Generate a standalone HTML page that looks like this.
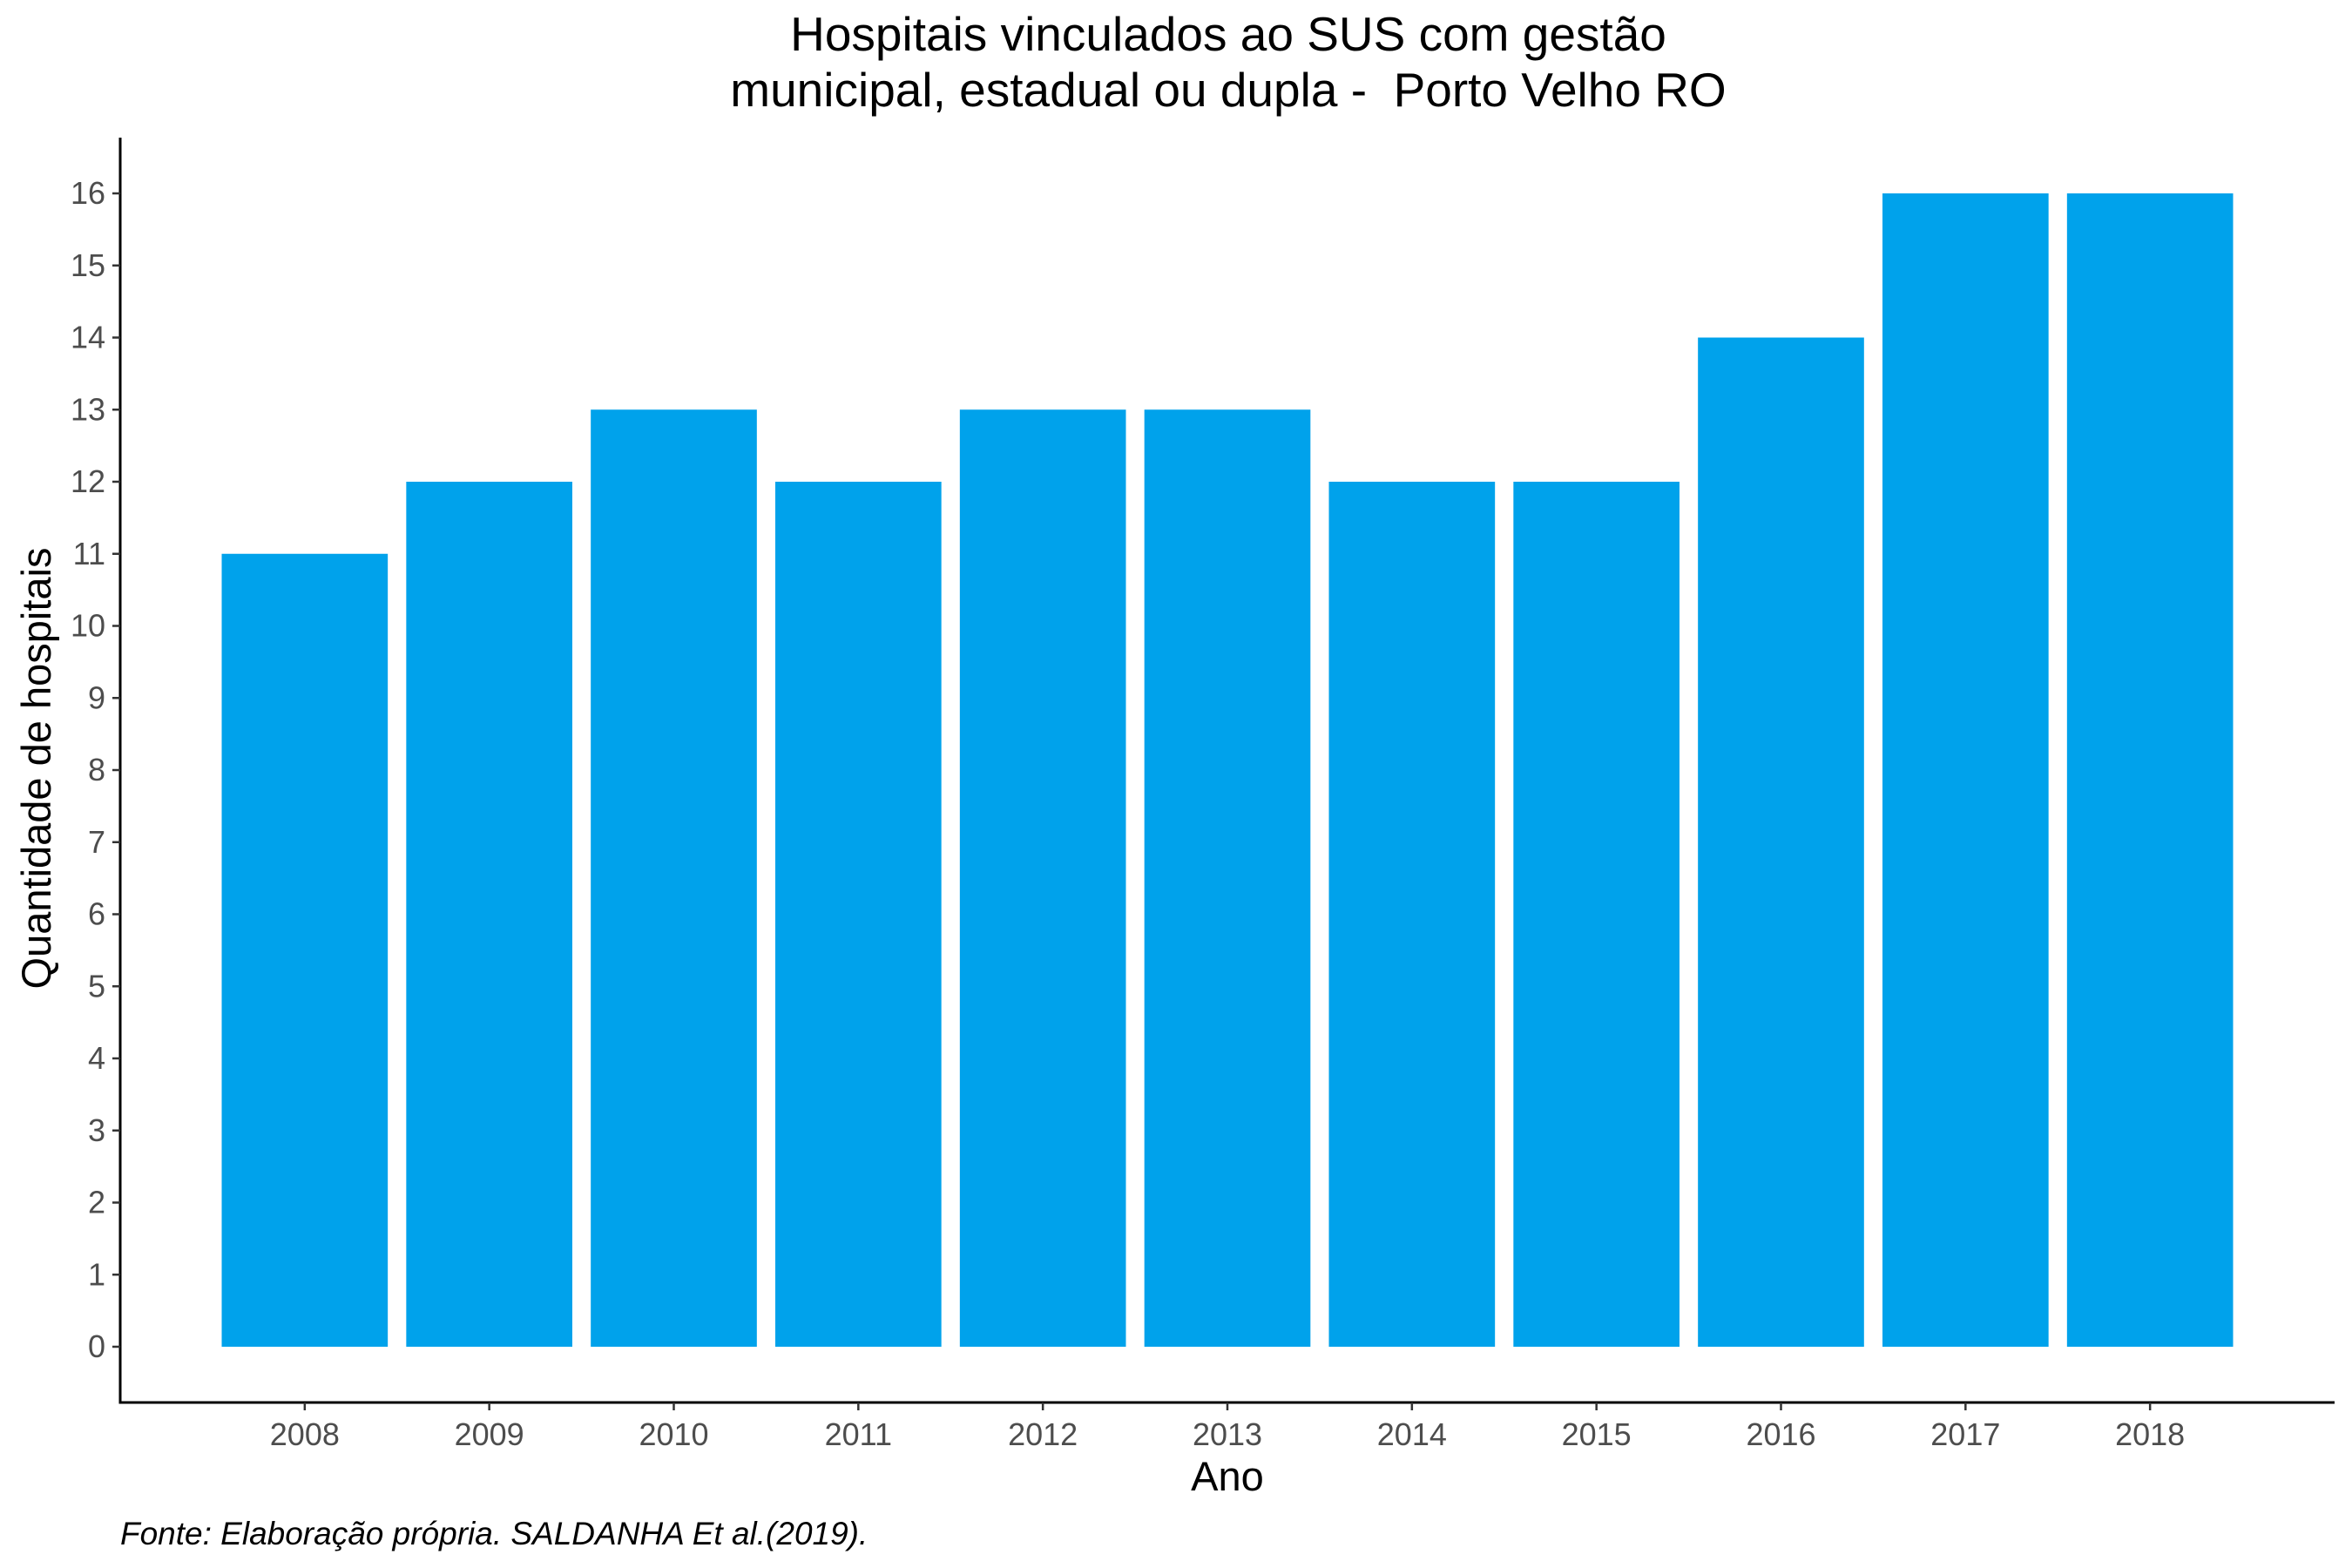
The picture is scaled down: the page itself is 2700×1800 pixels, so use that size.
<!DOCTYPE html>
<html><head><meta charset="utf-8"><style>
html,body{margin:0;padding:0;background:#fff;}
svg{display:block;font-family:"Liberation Sans",Arial,sans-serif;}
</style></head><body>
<svg id="chart" width="2700" height="1800" viewBox="0 0 2700 1800">
<text x="1410" y="58" font-size="55" text-anchor="middle" fill="#000">Hospitais vinculados ao SUS com gestão</text>
<text x="1410" y="122" font-size="55" text-anchor="middle" fill="#000" style="white-space:pre">municipal, estadual ou dupla -  Porto Velho RO</text>
<g id="bars"></g>
<g id="axes"></g>
<text x="1409" y="1711" font-size="47" text-anchor="middle" fill="#000">Ano</text>
<text transform="translate(58,882) rotate(-90)" font-size="47" text-anchor="middle" fill="#000">Quantidade de hospitais</text>
<text x="138" y="1773" font-size="37" font-style="italic" fill="#000">Fonte: Elaboração própria. SALDANHA Et al.(2019).</text>
</svg>
<script>
const categories = ["2008","2009","2010","2011","2012","2013","2014","2015","2016","2017","2018"];
const values = [11,12,13,12,13,13,12,12,14,16,16];
const yTicks = [0,1,2,3,4,5,6,7,8,9,10,11,12,13,14,15,16];

const NS = "http://www.w3.org/2000/svg";
const plotLeft = 138, plotRight = 2680, plotBottom = 1610, plotTop = 158;
const step = (plotRight - plotLeft) / (categories.length + 1);
const xPos = i => plotLeft + (i + 1) * step;
const yPos = v => 1546 - v * 82.75;
const barsG = document.getElementById('bars');
const axesG = document.getElementById('axes');
function mk(tag, attrs, parent){const e=document.createElementNS(NS,tag);for(const k in attrs)e.setAttribute(k,attrs[k]);parent.appendChild(e);return e;}

values.forEach((v,i)=>{
  const w = step*0.9;
  const r = mk('rect',{x:xPos(i)-w/2,y:yPos(v),width:w,height:yPos(0)-yPos(v),fill:'#00A2EB'},barsG);
  
  
});

const ya = mk('line',{x1:plotLeft,y1:plotTop,x2:plotLeft,y2:plotBottom,stroke:'#000','stroke-width':3},axesG);


const xa = mk('line',{x1:plotLeft-1.5,y1:plotBottom,x2:plotRight,y2:plotBottom,stroke:'#000','stroke-width':3},axesG);



yTicks.forEach(t=>{
  mk('line',{x1:plotLeft-9,y1:yPos(t),x2:plotLeft,y2:yPos(t),stroke:'#333','stroke-width':2.5},axesG);
  const tx = mk('text',{x:plotLeft-17,y:yPos(t)+12,'font-size':36,'text-anchor':'end',fill:'#4d4d4d'},axesG);
  tx.textContent = t;
  
  
});
categories.forEach((c,i)=>{
  mk('line',{x1:xPos(i),y1:plotBottom,x2:xPos(i),y2:plotBottom+9,stroke:'#333','stroke-width':2.5},axesG);
  const tx = mk('text',{x:xPos(i),y:1659,'font-size':36,'text-anchor':'middle',fill:'#4d4d4d'},axesG);
  tx.textContent = c;
  
  
});
</script>
</body></html>
